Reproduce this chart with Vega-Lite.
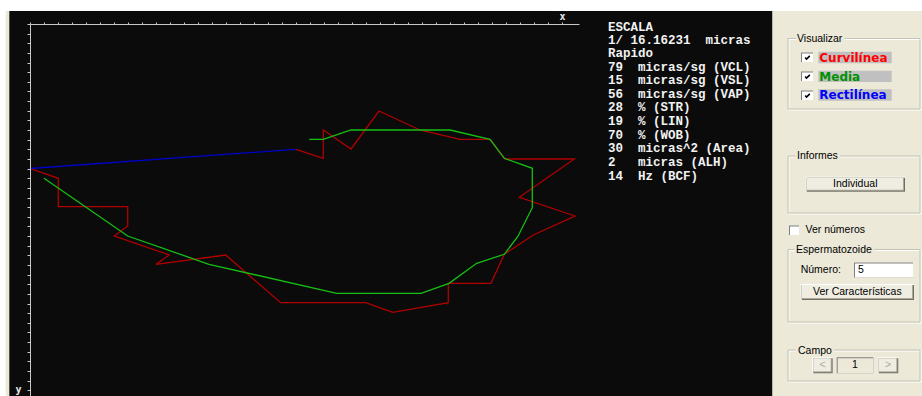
{
  "$schema": "https://vega.github.io/schema/vega-lite/v6.json",
  "width": 549,
  "height": 372,
  "autosize": {"type": "none"},
  "padding": {"left": 30, "top": 24, "right": 343, "bottom": 0},
  "background": "#ffffff",
  "config": {"view": {"stroke": null}},
  "datasets": {
    "zonas": [
      {"zona": "borde", "x": -24.3, "y": -13, "x_fin": -20.7, "y_fin": 372},
      {"zona": "campo", "x": -20.7, "y": -13, "x_fin": 742.5, "y_fin": 372},
      {"zona": "panel", "x": 742.5, "y": -13, "x_fin": 892, "y_fin": 372}
    ],
    "trayectoria": [
      {"serie": "Curvilínea", "orden": 1, "x": 0, "y": 144.5},
      {"serie": "Curvilínea", "orden": 2, "x": 28.3, "y": 154.3},
      {"serie": "Curvilínea", "orden": 3, "x": 28.3, "y": 182.7},
      {"serie": "Curvilínea", "orden": 4, "x": 97.7, "y": 182.7},
      {"serie": "Curvilínea", "orden": 5, "x": 97.7, "y": 202},
      {"serie": "Curvilínea", "orden": 6, "x": 84.3, "y": 212},
      {"serie": "Curvilínea", "orden": 7, "x": 139.3, "y": 231},
      {"serie": "Curvilínea", "orden": 8, "x": 126, "y": 240.3},
      {"serie": "Curvilínea", "orden": 9, "x": 195.7, "y": 231},
      {"serie": "Curvilínea", "orden": 10, "x": 250.7, "y": 278.7},
      {"serie": "Curvilínea", "orden": 11, "x": 335.7, "y": 278.7},
      {"serie": "Curvilínea", "orden": 12, "x": 362.7, "y": 288.3},
      {"serie": "Curvilínea", "orden": 13, "x": 418.3, "y": 278.7},
      {"serie": "Curvilínea", "orden": 14, "x": 418.3, "y": 259.3},
      {"serie": "Curvilínea", "orden": 15, "x": 461, "y": 259.3},
      {"serie": "Curvilínea", "orden": 16, "x": 474.3, "y": 230.3},
      {"serie": "Curvilínea", "orden": 17, "x": 503.3, "y": 211},
      {"serie": "Curvilínea", "orden": 18, "x": 545, "y": 192},
      {"serie": "Curvilínea", "orden": 19, "x": 489.3, "y": 173.3},
      {"serie": "Curvilínea", "orden": 20, "x": 544.3, "y": 135},
      {"serie": "Curvilínea", "orden": 21, "x": 475, "y": 135},
      {"serie": "Curvilínea", "orden": 22, "x": 460, "y": 115.3},
      {"serie": "Curvilínea", "orden": 23, "x": 430, "y": 115.3},
      {"serie": "Curvilínea", "orden": 24, "x": 390, "y": 106},
      {"serie": "Curvilínea", "orden": 25, "x": 349, "y": 87},
      {"serie": "Curvilínea", "orden": 26, "x": 321, "y": 125},
      {"serie": "Curvilínea", "orden": 27, "x": 293.3, "y": 106},
      {"serie": "Curvilínea", "orden": 28, "x": 293.3, "y": 134.3},
      {"serie": "Curvilínea", "orden": 29, "x": 266, "y": 125.3},
      {"serie": "Media", "orden": 1, "x": 14, "y": 154.3},
      {"serie": "Media", "orden": 2, "x": 97.7, "y": 212},
      {"serie": "Media", "orden": 3, "x": 179, "y": 240.3},
      {"serie": "Media", "orden": 4, "x": 306.7, "y": 269.3},
      {"serie": "Media", "orden": 5, "x": 391, "y": 269.3},
      {"serie": "Media", "orden": 6, "x": 419, "y": 259.3},
      {"serie": "Media", "orden": 7, "x": 446.7, "y": 239.3},
      {"serie": "Media", "orden": 8, "x": 474.3, "y": 230.3},
      {"serie": "Media", "orden": 9, "x": 487.7, "y": 212.7},
      {"serie": "Media", "orden": 10, "x": 502.3, "y": 183.7},
      {"serie": "Media", "orden": 11, "x": 502.3, "y": 144.3},
      {"serie": "Media", "orden": 12, "x": 474.3, "y": 134.3},
      {"serie": "Media", "orden": 13, "x": 460, "y": 115.3},
      {"serie": "Media", "orden": 14, "x": 420, "y": 106},
      {"serie": "Media", "orden": 15, "x": 321, "y": 106},
      {"serie": "Media", "orden": 16, "x": 293.3, "y": 115.3},
      {"serie": "Media", "orden": 17, "x": 279.3, "y": 115.3},
      {"serie": "Rectilínea", "orden": 1, "x": 0, "y": 144.5},
      {"serie": "Rectilínea", "orden": 2, "x": 266, "y": 125.3}
    ],
    "medidas": [
      {"texto": "ESCALA", "x": 578, "y": 6.8},
      {"texto": "1/\u00a016.16231\u00a0\u00a0micras", "x": 578, "y": 20},
      {"texto": "Rapido", "x": 578, "y": 33},
      {"texto": "79\u00a0\u00a0micras/sg\u00a0(VCL)", "x": 578, "y": 46.5},
      {"texto": "15\u00a0\u00a0micras/sg\u00a0(VSL)", "x": 578, "y": 60},
      {"texto": "56\u00a0\u00a0micras/sg\u00a0(VAP)", "x": 578, "y": 73.7},
      {"texto": "28\u00a0\u00a0%\u00a0(STR)", "x": 578, "y": 87.3},
      {"texto": "19\u00a0\u00a0%\u00a0(LIN)", "x": 578, "y": 101},
      {"texto": "70\u00a0\u00a0%\u00a0(WOB)", "x": 578, "y": 114.7},
      {"texto": "30\u00a0\u00a0micras^2\u00a0(Area)", "x": 578, "y": 128.3},
      {"texto": "2\u00a0\u00a0\u00a0micras\u00a0(ALH)", "x": 578, "y": 142},
      {"texto": "14\u00a0\u00a0Hz\u00a0(BCF)", "x": 578, "y": 155.7}
    ],
    "grupos": [
      {"titulo": "Visualizar", "x": 758, "y": 14.5, "x_fin": 890, "y_fin": 85},
      {"titulo": "Informes", "x": 758, "y": 132, "x_fin": 890, "y_fin": 189},
      {"titulo": "Espermatozoide", "x": 758, "y": 225.5, "x_fin": 890, "y_fin": 298},
      {"titulo": "Campo", "x": 758, "y": 326, "x_fin": 890, "y_fin": 357}
    ],
    "titulos": [
      {"texto": "Visualizar", "x": 767, "y": 15},
      {"texto": "Informes", "x": 767, "y": 131.5},
      {"texto": "Espermatozoide", "x": 766, "y": 225.5},
      {"texto": "Campo", "x": 768, "y": 326.5}
    ],
    "botones": [
      {"texto": "Individual", "x": 775.7, "y": 152.7, "x_fin": 875, "y_fin": 167.7},
      {"texto": "Ver Características", "x": 770.7, "y": 260, "x_fin": 884, "y_fin": 276},
      {"texto": "<", "x": 782.3, "y": 333.3, "x_fin": 802.7, "y_fin": 349.3},
      {"texto": ">", "x": 847.7, "y": 333.3, "x_fin": 868.3, "y_fin": 349.3}
    ],
    "rotulos": [
      {"texto": "Individual", "activo": "sí", "x": 825.3, "y": 160.2},
      {"texto": "Ver Características", "activo": "sí", "x": 827.3, "y": 268},
      {"texto": "<", "activo": "no", "x": 792.5, "y": 341.3},
      {"texto": "1", "activo": "sí", "x": 825, "y": 341.3},
      {"texto": ">", "activo": "no", "x": 858, "y": 341.3}
    ],
    "cajas": [
      {"campo": "Número", "habilitado": "sí", "x": 824, "y": 238.5, "x_fin": 883, "y_fin": 253.5},
      {"campo": "Campo", "habilitado": "no", "x": 806.7, "y": 333.3, "x_fin": 843.3, "y_fin": 349.3}
    ],
    "casillas": [
      {"opcion": "Curvilínea", "marcada": true, "x": 771, "y": 28.5, "x_fin": 783, "y_fin": 38},
      {"opcion": "Media", "marcada": true, "x": 771, "y": 47.5, "x_fin": 783, "y_fin": 57},
      {"opcion": "Rectilínea", "marcada": true, "x": 771, "y": 66.5, "x_fin": 783, "y_fin": 76},
      {"opcion": "Ver números", "marcada": false, "x": 759, "y": 201.5, "x_fin": 769, "y_fin": 211}
    ],
    "series_ui": [
      {"serie": "Curvilínea", "x": 788.3, "y": 27.7, "x_fin": 861.7, "y_fin": 39.3},
      {"serie": "Media", "x": 788.3, "y": 46.7, "x_fin": 861.7, "y_fin": 58},
      {"serie": "Rectilínea", "x": 788.3, "y": 65.3, "x_fin": 861.7, "y_fin": 76.7}
    ],
    "etiquetas": [
      {"texto": "Ver números", "x": 775.5, "y": 206},
      {"texto": "Número:", "x": 770.7, "y": 246},
      {"texto": "5", "x": 828, "y": 246}
    ]
  },
  "encoding": {
    "x": {
      "field": "x",
      "type": "quantitative",
      "scale": {"domain": [0, 549]},
      "axis": {
        "orient": "top",
        "values": [0, 14, 28, 42, 56, 70, 84, 98, 112, 126, 140, 154, 168, 182, 196, 210, 224, 238, 252, 266, 280, 294, 308, 322, 336, 350, 364, 378, 392, 406, 420, 434, 448, 462, 476, 490, 504, 518, 532],
        "labels": false,
        "grid": false,
        "tickSize": 2,
        "tickColor": "#c8c8c8",
        "domainColor": "#c8c8c8",
        "title": "x",
        "titleX": 532,
        "titleY": -5,
        "titleAlign": "center",
        "titleBaseline": "alphabetic",
        "titleColor": "#e6e6e6",
        "titleFont": "DejaVu Sans Mono",
        "titleFontSize": 10,
        "titleFontWeight": "bold",
        "zindex": 1
      }
    },
    "y": {
      "field": "y",
      "type": "quantitative",
      "scale": {"domain": [0, 372], "reverse": true},
      "axis": {
        "orient": "left",
        "values": [0, 9.64, 19.28, 28.92, 38.56, 48.2, 57.84, 67.48, 77.12, 86.76, 96.4, 106.04, 115.68, 125.32, 134.96, 144.6, 154.24, 163.88, 173.52, 183.16, 192.8, 202.44, 212.08, 221.72, 231.36, 241, 250.64, 260.28, 269.92, 279.56, 289.2, 298.84, 308.48, 318.12, 327.76, 337.4, 347.04, 356.68, 366.32],
        "labels": false,
        "grid": false,
        "tickSize": 3,
        "tickColor": "#c8c8c8",
        "domainColor": "#c8c8c8",
        "title": "y",
        "titleAngle": 0,
        "titleX": -12,
        "titleY": 360,
        "titleAlign": "center",
        "titleBaseline": "top",
        "titleColor": "#e6e6e6",
        "titleFont": "DejaVu Sans Mono",
        "titleFontSize": 10,
        "titleFontWeight": "bold",
        "zindex": 1
      }
    }
  },
  "layer": [
    {
      "data": {"name": "zonas"},
      "mark": {"type": "rect"},
      "encoding": {
        "x2": {"field": "x_fin"},
        "y2": {"field": "y_fin"},
        "color": {"field": "zona", "type": "nominal", "legend": null,
          "scale": {"domain": ["borde", "campo", "panel"], "range": ["#ece9d8", "#0b0b0b", "#ece9d8"]}}
      }
    },
    {
      "data": {"name": "trayectoria"},
      "mark": {"type": "line", "strokeWidth": 1.3, "interpolate": "linear"},
      "encoding": {
        "color": {"field": "serie", "type": "nominal", "legend": null,
          "scale": {"domain": ["Curvilínea", "Media", "Rectilínea"], "range": ["#b00000", "#14c014", "#0000c8"]}},
        "order": {"field": "orden", "type": "quantitative"}
      }
    },
    {
      "data": {"name": "medidas"},
      "mark": {"type": "text", "align": "left", "baseline": "alphabetic", "font": "Liberation Mono", "fontSize": 12.5, "fontWeight": "bold", "color": "#f2f2f2"},
      "encoding": {"text": {"field": "texto"}}
    },
    {
      "data": {"name": "grupos"},
      "mark": {"type": "rect", "filled": false, "stroke": "#ffffff", "strokeWidth": 1, "xOffset": 1, "yOffset": 1, "x2Offset": 1, "y2Offset": 1},
      "encoding": {"x2": {"field": "x_fin"}, "y2": {"field": "y_fin"}}
    },
    {
      "data": {"name": "grupos"},
      "mark": {"type": "rect", "filled": false, "stroke": "#c5c2b2", "strokeWidth": 1},
      "encoding": {"x2": {"field": "x_fin"}, "y2": {"field": "y_fin"}}
    },
    {
      "data": {"name": "titulos"},
      "mark": {"type": "text", "align": "left", "baseline": "middle", "font": "Liberation Sans", "fontSize": 10.5, "fill": "#ece9d8", "stroke": "#ece9d8", "strokeWidth": 5},
      "encoding": {"text": {"field": "texto"}}
    },
    {
      "data": {"name": "titulos"},
      "mark": {"type": "text", "align": "left", "baseline": "middle", "font": "Liberation Sans", "fontSize": 10.5, "color": "#000000"},
      "encoding": {"text": {"field": "texto"}}
    },
    {
      "data": {"name": "botones"},
      "mark": {"type": "rect", "color": "#ffffff"},
      "encoding": {"x2": {"field": "x_fin"}, "y2": {"field": "y_fin"}}
    },
    {
      "data": {"name": "botones"},
      "mark": {"type": "rect", "color": "#716f64", "xOffset": 1, "yOffset": 1},
      "encoding": {"x2": {"field": "x_fin"}, "y2": {"field": "y_fin"}}
    },
    {
      "data": {"name": "botones"},
      "mark": {"type": "rect", "color": "#aca899", "xOffset": 1, "yOffset": 1, "x2Offset": -1, "y2Offset": -1},
      "encoding": {"x2": {"field": "x_fin"}, "y2": {"field": "y_fin"}}
    },
    {
      "data": {"name": "botones"},
      "mark": {"type": "rect", "color": "#efede2", "xOffset": 1, "yOffset": 1, "x2Offset": -2, "y2Offset": -2},
      "encoding": {"x2": {"field": "x_fin"}, "y2": {"field": "y_fin"}}
    },
    {
      "data": {"name": "cajas"},
      "mark": {"type": "rect", "color": "#808080"},
      "encoding": {"x2": {"field": "x_fin"}, "y2": {"field": "y_fin"}}
    },
    {
      "data": {"name": "cajas"},
      "mark": {"type": "rect", "xOffset": 1, "yOffset": 1},
      "encoding": {
        "x2": {"field": "x_fin"},
        "y2": {"field": "y_fin"},
        "color": {"field": "habilitado", "type": "nominal", "legend": null,
          "scale": {"domain": ["sí", "no"], "range": ["#ffffff", "#ece9d8"]}}
      }
    },
    {
      "data": {"name": "casillas"},
      "mark": {"type": "rect", "color": "#808080"},
      "encoding": {"x2": {"field": "x_fin"}, "y2": {"field": "y_fin"}}
    },
    {
      "data": {"name": "casillas"},
      "mark": {"type": "rect", "color": "#ffffff", "xOffset": 1, "yOffset": 1},
      "encoding": {"x2": {"field": "x_fin"}, "y2": {"field": "y_fin"}}
    },
    {
      "data": {"name": "casillas"},
      "transform": [{"filter": "datum.marcada"}],
      "mark": {"type": "point", "shape": "M-0.85,-0.1L-0.35,0.5L0.85,-0.7", "filled": false, "stroke": "#000000", "strokeWidth": 1.6, "size": 30, "opacity": 1, "xOffset": 6.5, "yOffset": 5.3}
    },
    {
      "data": {"name": "series_ui"},
      "mark": {"type": "rect", "color": "#c0c0c0"},
      "encoding": {"x2": {"field": "x_fin"}, "y2": {"field": "y_fin"}}
    },
    {
      "data": {"name": "series_ui"},
      "mark": {"type": "text", "align": "left", "baseline": "middle", "font": "DejaVu Sans", "fontSize": 12, "fontWeight": "bold", "dx": 1, "dy": 6},
      "encoding": {
        "text": {"field": "serie"},
        "color": {"field": "serie", "type": "nominal", "legend": null,
          "scale": {"domain": ["Curvilínea", "Media", "Rectilínea"], "range": ["#ff0000", "#009000", "#0000ff"]}}
      }
    },
    {
      "data": {"name": "etiquetas"},
      "mark": {"type": "text", "align": "left", "baseline": "middle", "font": "Liberation Sans", "fontSize": 10.5, "color": "#000000"},
      "encoding": {"text": {"field": "texto"}}
    },
    {
      "data": {"name": "rotulos"},
      "mark": {"type": "text", "align": "center", "baseline": "middle", "font": "Liberation Sans", "fontSize": 10.5},
      "encoding": {
        "text": {"field": "texto"},
        "color": {"field": "activo", "type": "nominal", "legend": null,
          "scale": {"domain": ["sí", "no"], "range": ["#000000", "#aca899"]}}
      }
    }
  ],
  "resolve": {"scale": {"color": "independent"}}
}
